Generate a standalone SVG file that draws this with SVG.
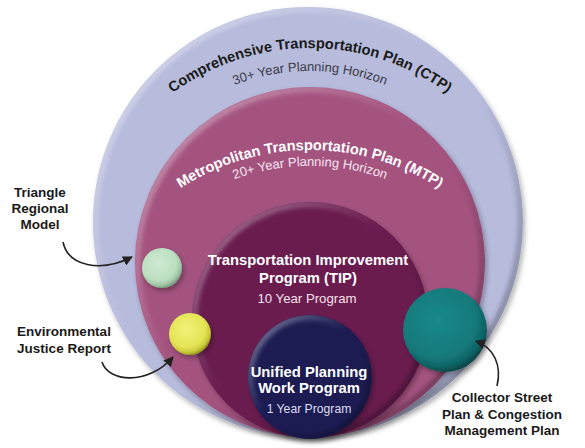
<svg xmlns="http://www.w3.org/2000/svg" width="585" height="448" viewBox="0 0 585 448">
<style>
.lbl{font-family:"Liberation Sans",Arial,sans-serif;font-weight:bold;font-size:13.5px;fill:#1a1a1a;text-anchor:middle}
.ttl{font-family:"Liberation Sans",Arial,sans-serif;font-weight:bold;font-size:14.8px;text-anchor:middle}
.sub{font-family:"Liberation Sans",Arial,sans-serif;font-size:13.2px;text-anchor:middle}
.arc{font-family:"Liberation Sans",Arial,sans-serif;font-weight:bold;font-size:14.6px}
.arcsub{font-family:"Liberation Sans",Arial,sans-serif;font-size:13px}
.conn{fill:none;stroke:#222;stroke-width:1.6;marker-end:url(#ah)}
.bev{fill:none;stroke:url(#bevel);stroke-width:7;filter:url(#soft)}
</style>
<defs>
<marker id="ah" markerUnits="userSpaceOnUse" markerWidth="11" markerHeight="10" refX="9" refY="5" orient="auto">
<path d="M0,0 L10,5 L0,10 Z" fill="#222"/>
</marker>
<linearGradient id="bevel" x1="0" y1="0" x2="1" y2="1">
<stop offset="0" stop-color="#fff" stop-opacity="0.45"/>
<stop offset="0.45" stop-color="#fff" stop-opacity="0"/>
<stop offset="0.55" stop-color="#000" stop-opacity="0"/>
<stop offset="1" stop-color="#000" stop-opacity="0.4"/>
</linearGradient>
<filter id="soft" x="-10%" y="-10%" width="120%" height="120%"><feGaussianBlur stdDeviation="2"/></filter>
<filter id="shadow" x="-20%" y="-20%" width="140%" height="140%"><feDropShadow dx="2" dy="3" stdDeviation="2.5" flood-color="#000" flood-opacity="0.3"/></filter>
<radialGradient id="gGreen" cx="0.42" cy="0.38" r="0.62">
<stop offset="0" stop-color="#cfe9d2"/><stop offset="0.7" stop-color="#bcdfc0"/><stop offset="0.9" stop-color="#9fc4a4"/><stop offset="1" stop-color="#7d9f84"/>
</radialGradient>
<radialGradient id="gYellow" cx="0.42" cy="0.38" r="0.62">
<stop offset="0" stop-color="#f2f27a"/><stop offset="0.7" stop-color="#e4e455"/><stop offset="0.9" stop-color="#c8c83a"/><stop offset="1" stop-color="#9a9a22"/>
</radialGradient>
<radialGradient id="gTeal" cx="0.42" cy="0.38" r="0.62">
<stop offset="0" stop-color="#1a8a8a"/><stop offset="0.72" stop-color="#14797b"/><stop offset="0.9" stop-color="#0f6466"/><stop offset="1" stop-color="#0a4a4c"/>
</radialGradient>
<clipPath id="cCtp"><circle cx="308" cy="222" r="215"/></clipPath>
<clipPath id="cMtp"><circle cx="310" cy="262" r="175"/></clipPath>
<clipPath id="cTip"><circle cx="310" cy="320" r="118"/></clipPath>
<clipPath id="cUp"><circle cx="310" cy="377" r="62"/></clipPath>
<path id="pCtp" d="M109.1,164 A232,232 0 0 1 510.9,164"/>
<path id="pCtpS" d="M129,175.5 A209,209 0 0 1 491,175.5"/>
<path id="pMtp" d="M103.9,269 A238,238 0 0 1 516.1,269"/>
<path id="pMtpS" d="M117.7,277 A222,222 0 0 1 502.3,277"/>
</defs>
<rect width="585" height="448" fill="#fff"/>

<g id="ctp">
<circle cx="308" cy="222" r="215" fill="#b7bbdc" filter="url(#shadow)"/>
<g clip-path="url(#cCtp)"><circle cx="308" cy="222" r="213" class="bev"/></g>
<text class="arc" fill="#1a1a1a"><textPath href="#pCtp" startOffset="50%" text-anchor="middle">Comprehensive Transportation Plan (CTP)</textPath></text>
<text class="arcsub" fill="#3a3a48"><textPath href="#pCtpS" startOffset="50%" text-anchor="middle">30+ Year Planning Horizon</textPath></text>
</g>

<g id="mtp">
<circle cx="310" cy="262" r="175" fill="#a4527f" filter="url(#shadow)"/>
<g clip-path="url(#cMtp)"><circle cx="310" cy="262" r="173" class="bev"/></g>
<text class="arc" fill="#ffffff"><textPath href="#pMtp" startOffset="50%" text-anchor="middle">Metropolitan Transportation Plan (MTP)</textPath></text>
<text class="arcsub" fill="#f6e4f0"><textPath href="#pMtpS" startOffset="50%" text-anchor="middle">20+ Year Planning Horizon</textPath></text>
</g>

<g id="tip">
<circle cx="310" cy="320" r="118" fill="#6a1a50" filter="url(#shadow)"/>
<g clip-path="url(#cTip)"><circle cx="310" cy="320" r="116" class="bev"/></g>
<text class="ttl" x="308" y="265" fill="#fff">Transportation Improvement</text>
<text class="ttl" x="308" y="283" fill="#fff">Program (TIP)</text>
<text class="sub" x="307" y="303" fill="#f3e3ee">10 Year Program</text>
</g>

<g id="upwp">
<circle cx="310" cy="377" r="62" fill="#1f1c52" filter="url(#shadow)"/>
<g clip-path="url(#cUp)"><circle cx="310" cy="377" r="60" class="bev"/></g>
<text class="ttl" x="309" y="377" fill="#fff">Unified Planning</text>
<text class="ttl" x="309" y="393" fill="#fff">Work Program</text>
<text class="sub" x="309" y="413" fill="#dcdcee" style="font-size:12.2px">1 Year Program</text>
</g>

<g id="trm">
<circle cx="162" cy="268" r="20" fill="url(#gGreen)" filter="url(#shadow)"/>
<text class="lbl" x="40" y="197">Triangle</text>
<text class="lbl" x="40" y="213">Regional</text>
<text class="lbl" x="40" y="229">Model</text>
</g>

<g id="ej">
<circle cx="190" cy="334" r="21" fill="url(#gYellow)" filter="url(#shadow)"/>
<text class="lbl" x="64" y="336">Environmental</text>
<text class="lbl" x="64" y="353">Justice Report</text>
</g>

<g id="cs">
<circle cx="445" cy="330" r="42" fill="url(#gTeal)" filter="url(#shadow)"/>
<text class="lbl" x="502" y="402">Collector Street</text>
<text class="lbl" x="502" y="419">Plan &amp; Congestion</text>
<text class="lbl" x="502" y="435">Management Plan</text>
</g>

<g id="connectors">
<path class="conn" d="M63,242 C68,266 100,273 132,257"/>
<path class="conn" d="M102,362 C108,382 148,386 173,357"/>
<path class="conn" d="M497,386 C502,365 494,348 476,341"/>
</g>
</svg>
